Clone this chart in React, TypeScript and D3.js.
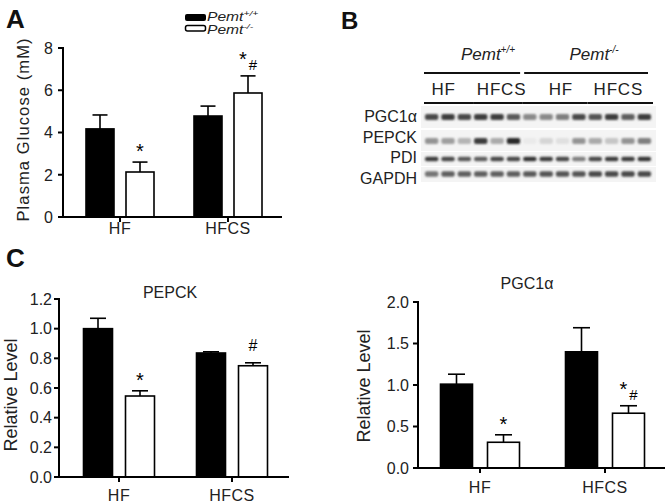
import React from "react";
import * as d3 from "d3";

// ---------- data ----------
const groups = ["HF", "HFCS"];
const genotypes = ["Pemt+/+", "Pemt-/-"];

// Panel A: plasma glucose (mM)
const glucoseWT = [4.17, 4.78];
const glucoseWTErr = [0.66, 0.47];
const glucoseKO = [2.13, 5.87];
const glucoseKOErr = [0.47, 0.81];
const glucoseMarks = ["*", "*#"];
const glucoseTicks = [0, 2, 4, 6, 8];

// Panel C: PEPCK relative level
const pepckWT = [1.0, 0.836];
const pepckWTErr = [0.07, 0.008];
const pepckKO = [0.546, 0.75];
const pepckKOErr = [0.035, 0.02];
const pepckMarks = ["*", "#"];
const pepckTicks = [0, 0.2, 0.4, 0.6, 0.8, 1.0, 1.2];

// Panel C: PGC1α relative level
const pgcWT = [1.01, 1.4];
const pgcWTErr = [0.12, 0.29];
const pgcKO = [0.31, 0.66];
const pgcKOErr = [0.09, 0.09];
const pgcMarks = ["*", "*#"];
const pgcTicks = [0, 0.5, 1.0, 1.5, 2.0];

// Panel B: western blot band intensities (0..1), 14 lanes
const blotProteins = ["PGC1α", "PEPCK", "PDI", "GAPDH"];
const blotLaneGroups = ["HF", "HFCS", "HF", "HFCS"];
const blotLaneCounts = [3, 3, 4, 4];
const blotPGC = [0.8, 0.85, 0.8, 0.85, 0.85, 0.72, 0.5, 0.5, 0.55, 0.8, 0.75, 0.85, 0.7, 0.85];
const blotPEPCK = [0.45, 0.4, 0.3, 0.85, 0.35, 0.95, 0.05, 0.15, 0.1, 0.45, 0.35, 0.22, 0.45, 0.55];
const blotPDI = [0.85, 0.8, 0.72, 0.7, 0.8, 0.8, 0.9, 0.85, 0.8, 0.55, 0.8, 0.85, 0.85, 0.88];
const blotGAPDH = [0.6, 0.7, 0.7, 0.7, 0.7, 0.7, 0.72, 0.75, 0.75, 0.75, 0.8, 0.8, 0.8, 0.8];

const FONT = "'Liberation Sans', Arial, sans-serif";

type PanelCfg = {
  axisX: number;
  axisEnd: number;
  y0: number;
  y1: number;
  domainMax: number;
  ticks: number[];
  fmt: (v: number) => string;
  groupStart: number;
  groupStep: number;
  offset: number;
  barW: number;
  capW: number;
  wt: number[];
  wtErr: number[];
  ko: number[];
  koErr: number[];
  marks: string[];
  tickLabelX: number;
  xLabelY: number;
  xLabelSize: number;
  title?: string;
  titleX?: number;
  titleY?: number;
  ylabel: string;
  ylabelX: number;
  ylabelY: number;
  ylabelSize: number;
  ylabelLen?: number;
};

function BarPanel({ c }: { c: PanelCfg }) {
  const y = d3.scaleLinear().domain([0, c.domainMax]).range([c.y0, c.y1]);
  const x0 = d3
    .scaleBand<string>()
    .domain(groups)
    .range([c.groupStart, c.groupStart + c.groupStep * groups.length])
    .padding(0);
  const center = (g: string) => (x0(g) as number) + x0.bandwidth() / 2;
  const series = [
    { vals: c.wt, errs: c.wtErr, fill: "#000", sign: -1 },
    { vals: c.ko, errs: c.koErr, fill: "#fff", sign: 1 },
  ];
  return (
    <g fontFamily={FONT}>
      {series.map((s, si) =>
        groups.map((g, gi) => {
          const cx = center(g) + s.sign * c.offset;
          const top = y(s.vals[gi]);
          const et = y(s.vals[gi] + s.errs[gi]);
          return (
            <g key={`${si}-${gi}`}>
              <line x1={cx} x2={cx} y1={top} y2={et} stroke="#000" strokeWidth={1.6} />
              <line x1={cx - c.capW / 2} x2={cx + c.capW / 2} y1={et} y2={et} stroke="#000" strokeWidth={1.6} />
              <rect
                x={cx - c.barW / 2}
                y={top}
                width={c.barW}
                height={c.y0 - top}
                fill={s.fill}
                stroke="#000"
                strokeWidth={1.6}
              />
            </g>
          );
        })
      )}
      {groups.map((g, gi) => {
        const m = c.marks[gi];
        const cx = center(g) + c.offset;
        const et = y(c.ko[gi] + c.koErr[gi]);
        if (m === "*")
          return (
            <text key={g} x={cx} y={et - 4} textAnchor="middle" fontSize={20}>
              *
            </text>
          );
        if (m === "#")
          return (
            <text key={g} x={cx} y={et - 12} textAnchor="middle" fontSize={16}>
              #
            </text>
          );
        return (
          <g key={g}>
            <text x={cx - 5} y={et - 10} textAnchor="middle" fontSize={20}>
              *
            </text>
            <text x={cx + 5} y={et - 6} textAnchor="middle" fontSize={15}>
              #
            </text>
          </g>
        );
      })}
      <line x1={c.axisX} x2={c.axisX} y1={c.y1 - 1} y2={c.y0} stroke="#000" strokeWidth={2} />
      <line x1={c.axisX} x2={c.axisEnd} y1={c.y0} y2={c.y0} stroke="#000" strokeWidth={2} />
      {c.ticks.map((t) => (
        <g key={t}>
          <line x1={c.axisX - 5} x2={c.axisX} y1={y(t)} y2={y(t)} stroke="#000" strokeWidth={2} />
          <text x={c.tickLabelX} y={y(t)} dy="0.36em" textAnchor="end" fontSize={16} fill="#222">
            {c.fmt(t)}
          </text>
        </g>
      ))}
      {groups.map((g) => (
        <g key={g}>
          <line x1={center(g)} x2={center(g)} y1={c.y0} y2={c.y0 + 5} stroke="#000" strokeWidth={2} />
          <text x={center(g)} y={c.xLabelY} textAnchor="middle" fontSize={c.xLabelSize} letterSpacing={0.5} fill="#222">
            {g}
          </text>
        </g>
      ))}
      {c.title && (
        <text x={c.titleX} y={c.titleY} textAnchor="middle" fontSize={16} fill="#222">
          {c.title}
        </text>
      )}
      <text
        transform={`translate(${c.ylabelX},${c.ylabelY}) rotate(-90)`}
        textAnchor="middle"
        fontSize={c.ylabelSize}
        fill="#222"
        textLength={c.ylabelLen}
        lengthAdjust={c.ylabelLen ? "spacing" : undefined}
      >
        {c.ylabel}
      </text>
    </g>
  );
}

function Blot() {
  const nLanes = d3.sum(blotLaneCounts);
  const lane = d3.scaleBand<number>().domain(d3.range(nLanes)).range([422, 654]).padding(0.18);
  const rows = [
    { vals: blotPGC, cy: 117, h: 6, label: 122, bg: [106, 128] },
    { vals: blotPEPCK, cy: 141, h: 6, label: 143, bg: [130, 151] },
    { vals: blotPDI, cy: 159, h: 4.5, label: 163, bg: [152, 166] },
    { vals: blotGAPDH, cy: 174, h: 5.5, label: 184, bg: [167, 182] },
  ];
  const labelDx = [-5, 4, 6, -2];
  let acc = 0;
  const segs = blotLaneCounts.map((n, i) => {
    const a = acc;
    acc += n;
    const x1 = (lane(a) as number) - lane.step() * lane.paddingOuter() + 2;
    const x2 = (lane(a + n - 1) as number) + lane.bandwidth() + lane.step() * lane.paddingOuter() - 1;
    return { x1, x2, label: blotLaneGroups[i], dx: labelDx[i] };
  });
  const shade = (d: number) => {
    const v = Math.round(245 - d * 215);
    return `rgb(${v},${v},${v})`;
  };
  const heads = [
    { a: segs[0].x1, b: segs[1].x2 - 2, tx: 488, sup: genotypes[0].slice(4) },
    { a: segs[2].x1 + 2, b: segs[3].x2 - 5, tx: 594, sup: genotypes[1].slice(4) },
  ];
  return (
    <g fontFamily={FONT}>
      <defs>
        <filter id="blur" x="-30%" y="-80%" width="160%" height="260%">
          <feGaussianBlur stdDeviation="1.1" />
        </filter>
      </defs>
      {rows.map((r, ri) => (
        <g key={ri}>
          <rect x={421} y={r.bg[0]} width={235} height={r.bg[1] - r.bg[0]} fill="#f4f4f4" />
          {r.vals.map((v, li) => (
            <rect
              key={li}
              x={lane(li)}
              y={r.cy - r.h / 2}
              width={lane.bandwidth()}
              height={r.h}
              rx={2}
              fill={shade(v)}
              filter="url(#blur)"
            />
          ))}
          <text x={417} y={r.label} textAnchor="end" fontSize={16} fill="#222">
            {blotProteins[ri]}
          </text>
        </g>
      ))}
      {segs.map((s, i) => (
        <g key={i}>
          <line x1={s.x1} x2={s.x2} y1={103} y2={103} stroke="#111" strokeWidth={2} />
          <text x={(s.x1 + s.x2) / 2 + s.dx} y={95} textAnchor="middle" fontSize={17} letterSpacing={0.8} fill="#222">
            {s.label}
          </text>
        </g>
      ))}
      {heads.map((h, i) => (
        <g key={i}>
          <line x1={h.a} x2={h.b} y1={73} y2={73} stroke="#111" strokeWidth={2} />
          <text x={h.tx} y={60} textAnchor="middle" fontSize={17} fontStyle="italic" fill="#222">
            Pemt
            <tspan fontSize={10} dy={-7}>
              {h.sup}
            </tspan>
          </text>
        </g>
      ))}
    </g>
  );
}

export default function App() {
  const panelA: PanelCfg = {
    axisX: 63,
    axisEnd: 282,
    y0: 217,
    y1: 48,
    domainMax: 8,
    ticks: glucoseTicks,
    fmt: (v) => d3.format("d")(v),
    groupStart: 66,
    groupStep: 108,
    offset: 20,
    barW: 28,
    capW: 15,
    wt: glucoseWT,
    wtErr: glucoseWTErr,
    ko: glucoseKO,
    koErr: glucoseKOErr,
    marks: glucoseMarks,
    tickLabelX: 53,
    xLabelY: 234,
    xLabelSize: 16,
    ylabel: "Plasma Glucose (mM)",
    ylabelX: 29,
    ylabelY: 130,
    ylabelSize: 16.5,
    ylabelLen: 183,
  };
  const panelC1: PanelCfg = {
    axisX: 59,
    axisEnd: 289,
    y0: 477,
    y1: 299,
    domainMax: 1.2,
    ticks: pepckTicks,
    fmt: (v) => d3.format(".1f")(v),
    groupStart: 62.5,
    groupStep: 113,
    offset: 21,
    barW: 29,
    capW: 16,
    wt: pepckWT,
    wtErr: pepckWTErr,
    ko: pepckKO,
    koErr: pepckKOErr,
    marks: pepckMarks,
    tickLabelX: 52,
    xLabelY: 501,
    xLabelSize: 16,
    title: "PEPCK",
    titleX: 170,
    titleY: 298,
    ylabel: "Relative Level",
    ylabelX: 17,
    ylabelY: 395,
    ylabelSize: 18,
  };
  const panelC2: PanelCfg = {
    axisX: 418,
    axisEnd: 665,
    y0: 468,
    y1: 302,
    domainMax: 2.0,
    ticks: pgcTicks,
    fmt: (v) => d3.format(".1f")(v),
    groupStart: 417.5,
    groupStep: 125,
    offset: 23.5,
    barW: 32,
    capW: 17,
    wt: pgcWT,
    wtErr: pgcWTErr,
    ko: pgcKO,
    koErr: pgcKOErr,
    marks: pgcMarks,
    tickLabelX: 409,
    xLabelY: 493,
    xLabelSize: 16,
    title: "PGC1α",
    titleX: 527,
    titleY: 289,
    ylabel: "Relative Level",
    ylabelX: 370,
    ylabelY: 386,
    ylabelSize: 18,
  };

  return (
    <svg
      width={670}
      height={504}
      viewBox="0 0 670 504"
      style={{ position: "absolute", left: 0, top: 0, background: "#fff" }}
    >
      <rect width={670} height={504} fill="#fff" />
      <g fontFamily={FONT} fontWeight="bold" fill="#111">
        <text x={6} y={28} fontSize={26}>A</text>
        <text x={341} y={29} fontSize={24}>B</text>
        <text x={6} y={267} fontSize={26}>C</text>
      </g>
      {/* legend */}
      <g fontFamily={FONT} fill="#222">
        <rect x={185} y={14} width={21} height={7} rx={2} fill="#000" />
        <rect x={185.5} y={25.5} width={20} height={5.5} rx={2} fill="#fff" stroke="#000" strokeWidth={1.5} />
        {genotypes.map((g, i) => (
          <text
            key={g}
            transform={`translate(207,${21 + i * 13}) scale(1.3,1)`}
            fontSize={12}
            fontStyle="italic"
          >
            Pemt
            <tspan fontSize={8} dy={-5}>
              {g.slice(4)}
            </tspan>
          </text>
        ))}
      </g>
      <BarPanel c={panelA} />
      <Blot />
      <BarPanel c={panelC1} />
      <BarPanel c={panelC2} />
    </svg>
  );
}
